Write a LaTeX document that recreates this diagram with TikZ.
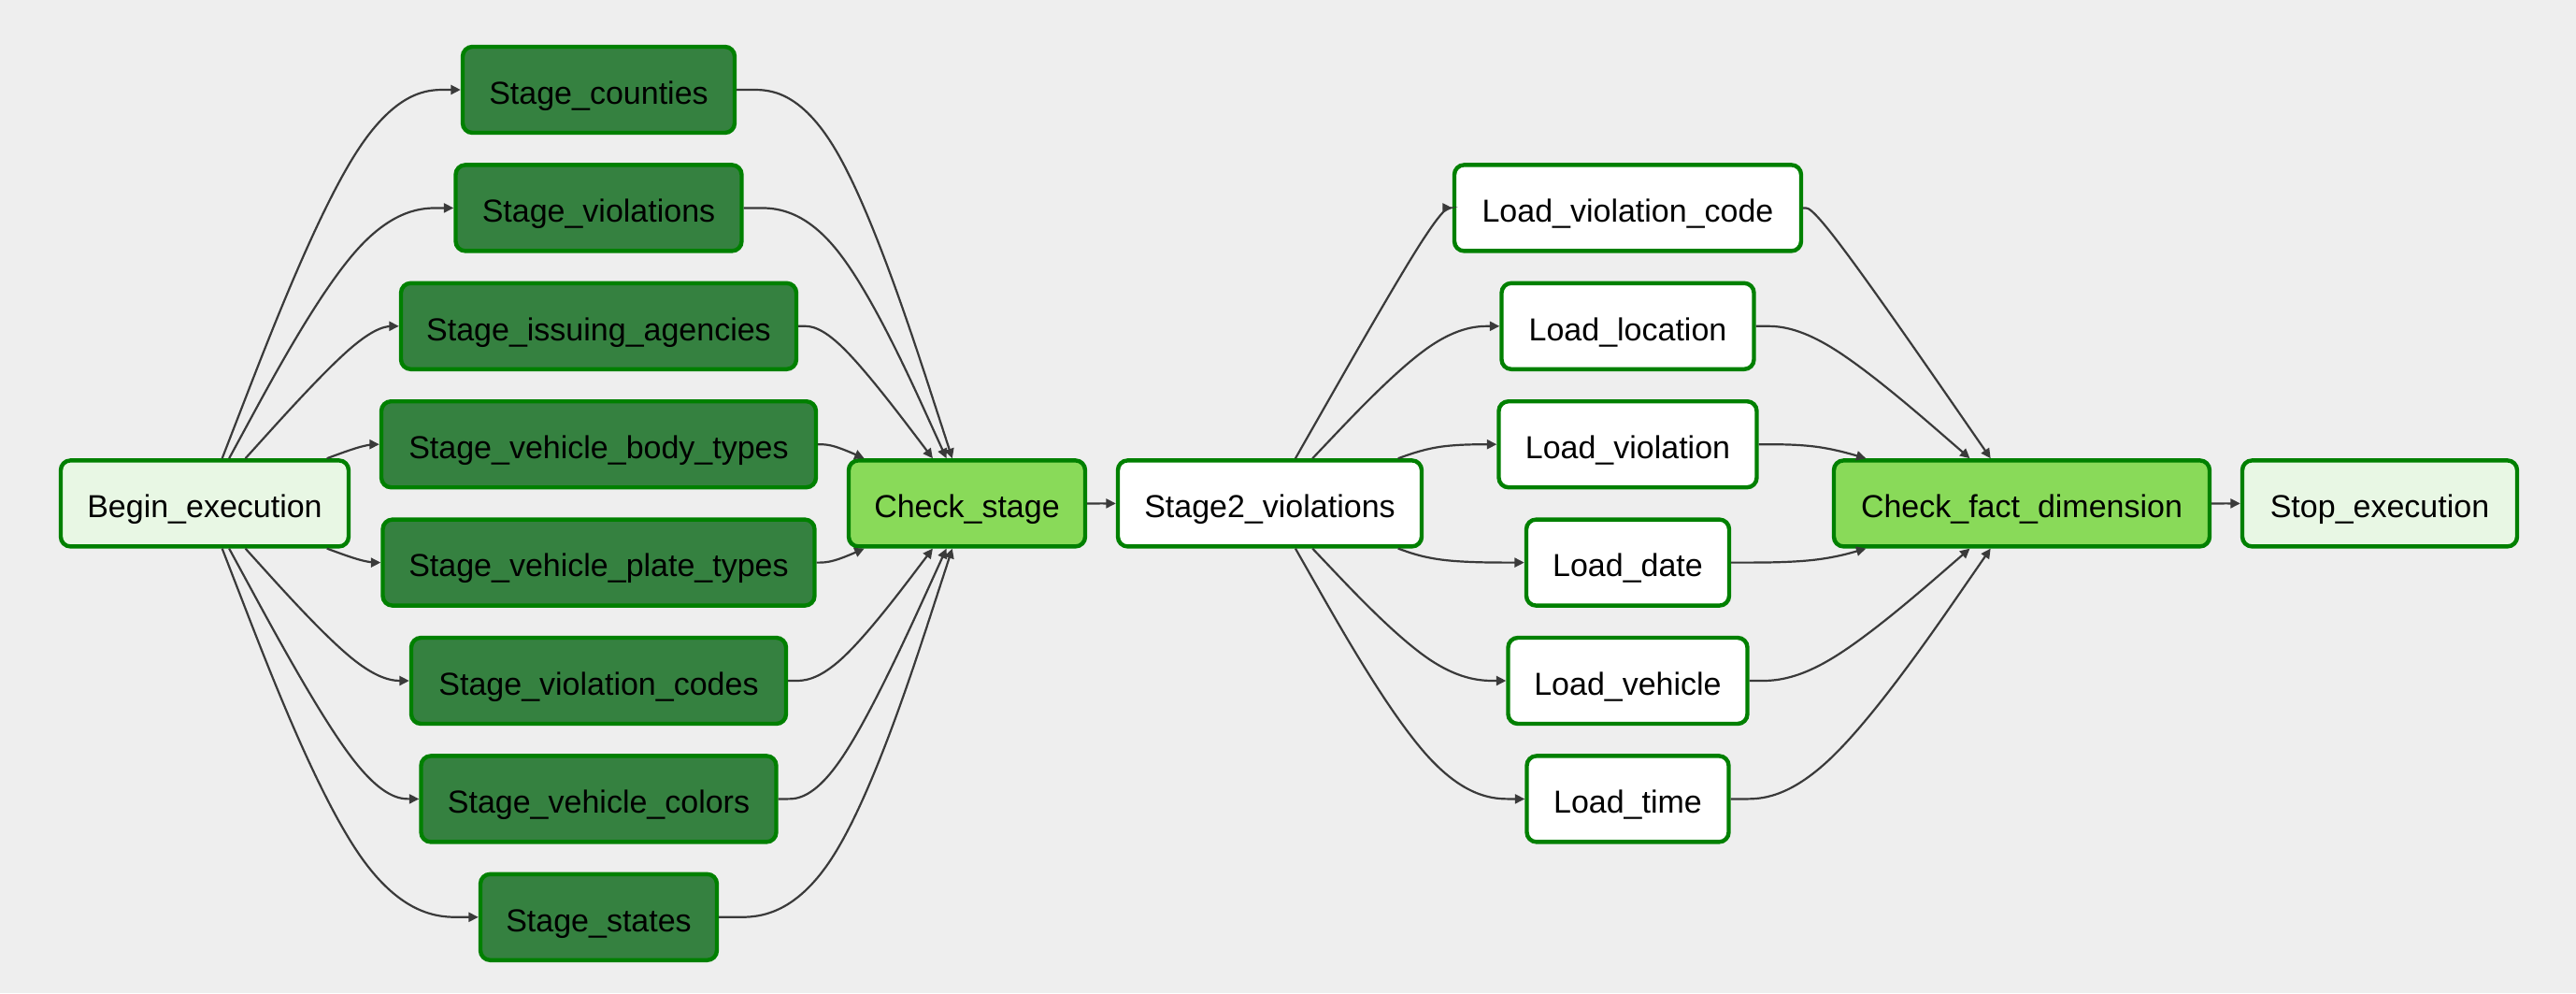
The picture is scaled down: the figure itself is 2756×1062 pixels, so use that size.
\documentclass[tikz,border=0pt]{standalone}
\usepackage{fontspec}
\setmainfont{Liberation Sans}
\usetikzlibrary{calc,arrows.meta}
\definecolor{bgc}{HTML}{EEEEEE}
\definecolor{bordc}{HTML}{008000}
\definecolor{stagec}{HTML}{358140}
\definecolor{checkc}{HTML}{89DA59}
\definecolor{dummyc}{HTML}{E8F7E4}
\definecolor{edgec}{HTML}{3A3A3A}
\newcommand\dagedge[3]{%
  \coordinate (q) at (#2);
  \path (#1) -- (q) coordinate[pos=0] (s);
  \path (q) -- (#3) coordinate[pos=1] (t);
  \draw[edgeline] (#1) -- ($(s)!1/6!(q)$)
    .. controls ($(s)!1/3!(q)$) and ($(s)!2/3!(q)$) .. ($1/6*(s)+2/3*(q)+1/6*(t)$)
    .. controls ($(q)!1/3!(t)$) and ($(q)!2/3!(t)$) .. ($(q)!5/6!(t)$) -- (#3);
}
\begin{document}
\begin{tikzpicture}[x=0.25pt,y=-0.25pt,
  task/.style={draw=bordc, line width=1.1pt, rounded corners=2.6pt, inner sep=0pt,
    minimum height=23pt, text height=7.6pt, text depth=0pt,
    font=\fontsize{8.5pt}{10pt}\selectfont, text=black},
  wd/.style={minimum width=#1*0.25pt},
  stagebox/.style={task, fill=stagec},
  checkbox/.style={task, fill=checkc},
  dummybox/.style={task, fill=dummyc},
  loadbox/.style={task, fill=white},
  edgeline/.style={draw=edgec, line width=0.55pt, -{Triangle[length=2.6pt,width=2.5pt]}}
]
\fill[bgc] (0,0) rectangle (2756,1062);
\useasboundingbox (0,0) rectangle (2756,1062);

% rows
\def\ra{96}\def\rb{222.4}\def\rc{348.8}\def\rd{475.2}\def\re{601.6}\def\rf{728}\def\rg{854.4}\def\rh{980.8}\def\rm{538.4}

\node[dummybox, wd=308] (begin) at (219,\rm) {Begin\_execution};

\node[stagebox, wd=291] (s1) at (640.5,\ra) {Stage\_counties};
\node[stagebox, wd=306] (s2) at (640.5,\rb) {Stage\_violations};
\node[stagebox, wd=423] (s3) at (640.5,\rc) {Stage\_issuing\_agencies};
\node[stagebox, wd=465] (s4) at (640.5,\rd) {Stage\_vehicle\_body\_types};
\node[stagebox, wd=462] (s5) at (640.5,\re) {Stage\_vehicle\_plate\_types};
\node[stagebox, wd=401] (s6) at (640.5,\rf) {Stage\_violation\_codes};
\node[stagebox, wd=380] (s7) at (640.5,\rg) {Stage\_vehicle\_colors};
\node[stagebox, wd=253] (s8) at (640.5,\rh) {Stage\_states};

\node[checkbox, wd=253] (check) at (1034.5,\rm) {Check\_stage};
\node[loadbox, wd=325] (stage2) at (1358.5,\rm) {Stage2\_violations};

\node[loadbox, wd=371] (l1) at (1741.5,\rb) {Load\_violation\_code};
\node[loadbox, wd=270] (l2) at (1741.5,\rc) {Load\_location};
\node[loadbox, wd=276] (l3) at (1741.5,\rd) {Load\_violation};
\node[loadbox, wd=217] (l4) at (1741.5,\re) {Load\_date};
\node[loadbox, wd=256] (l5) at (1741.5,\rf) {Load\_vehicle};
\node[loadbox, wd=216] (l6) at (1741.5,\rg) {Load\_time};

\node[checkbox, wd=402] (fact) at (2163,\rm) {Check\_fact\_dimension};
\node[dummybox, wd=294] (stop) at (2546,\rm) {Stop\_execution};

% Begin -> stages
\dagedge{begin}{390.5,\ra}{s1}
\dagedge{begin}{390.5,\rb}{s2}
\dagedge{begin}{390.5,\rc}{s3}
\dagedge{begin}{390.5,\rd}{s4}
\dagedge{begin}{390.5,\re}{s5}
\dagedge{begin}{390.5,\rf}{s6}
\dagedge{begin}{390.5,\rg}{s7}
\dagedge{begin}{390.5,\rh}{s8}
% stages -> check
\dagedge{s1}{890.5,\ra}{check}
\dagedge{s2}{890.5,\rb}{check}
\dagedge{s3}{890.5,\rc}{check}
\dagedge{s4}{890.5,\rd}{check}
\dagedge{s5}{890.5,\re}{check}
\dagedge{s6}{890.5,\rf}{check}
\dagedge{s7}{890.5,\rg}{check}
\dagedge{s8}{890.5,\rh}{check}
% check -> stage2
\dagedge{check}{1178.5,\rm}{stage2}
% stage2 -> loads
\dagedge{stage2}{1538.5,\rb}{l1}
\dagedge{stage2}{1538.5,\rc}{l2}
\dagedge{stage2}{1538.5,\rd}{l3}
\dagedge{stage2}{1538.5,\re}{l4}
\dagedge{stage2}{1538.5,\rf}{l5}
\dagedge{stage2}{1538.5,\rg}{l6}
% loads -> fact
\dagedge{l1}{1944.5,\rb}{fact}
\dagedge{l2}{1944.5,\rc}{fact}
\dagedge{l3}{1944.5,\rd}{fact}
\dagedge{l4}{1944.5,\re}{fact}
\dagedge{l5}{1944.5,\rf}{fact}
\dagedge{l6}{1944.5,\rg}{fact}
% fact -> stop
\dagedge{fact}{2381.5,\rm}{stop}
\end{tikzpicture}
\end{document}
